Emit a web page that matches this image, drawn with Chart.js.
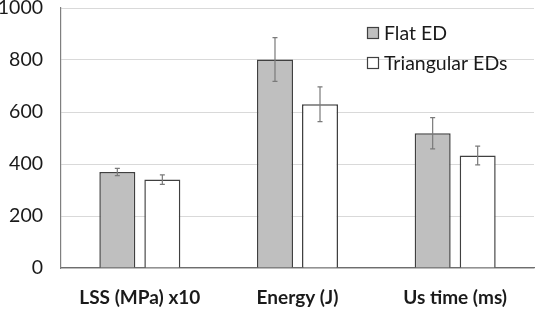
<!DOCTYPE html>
<html><head><meta charset="utf-8">
<script src="https://cdn.jsdelivr.net/npm/chart.js@4.4.1/dist/chart.umd.min.js"></script>
<style>html,body{margin:0;padding:0;background:#fff}#wrap{width:536px;height:309px}</style>
</head><body><div id="wrap"><canvas id="c" width="536" height="309"></canvas></div>
<script>
const categories = ["LSS (MPa) x10", "Energy (J)", "Us time (ms)"];
const seriesNames = ["Flat ED", "Triangular EDs"];
const flatValues = [369, 802, 518];
const flatErrors = [14, 84, 60];
const triValues = [340, 630, 433];
const triErrors = [18, 67, 36];
const yTicks = [0, 200, 400, 600, 800, 1000];

const FONT = "Lato, 'Liberation Sans', sans-serif";

const errorBars = {
  id: 'errorBars',
  afterDatasetsDraw(chart) {
    const ctx = chart.ctx, y = chart.scales.y;
    chart.data.datasets.forEach((ds, i) => {
      const meta = chart.getDatasetMeta(i);
      meta.data.forEach((bar, j) => {
        const v = ds.data[j], e = ds.errors[j];
        const yt = y.getPixelForValue(v + e), yb = y.getPixelForValue(v - e);
        ctx.save();
        ctx.strokeStyle = '#7a7a7a';
        ctx.lineWidth = 1.2;
        ctx.beginPath();
        ctx.moveTo(bar.x, yt); ctx.lineTo(bar.x, yb);
        ctx.moveTo(bar.x - 2.5, yt); ctx.lineTo(bar.x + 2.5, yt);
        ctx.moveTo(bar.x - 2.5, yb); ctx.lineTo(bar.x + 2.5, yb);
        ctx.stroke();
        ctx.restore();
      });
    });
  }
};

const innerLegend = {
  id: 'innerLegend',
  afterDraw(chart) {
    const ctx = chart.ctx;
    ctx.save();
    ctx.font = "19.5px " + FONT;
    ctx.textBaseline = 'middle';
    chart.data.datasets.forEach((ds, i) => {
      const cy = 33 + i * 30;
      ctx.fillStyle = ds.backgroundColor;
      ctx.fillRect(367.5, cy - 5.5, 11, 11);
      ctx.strokeStyle = '#404040';
      ctx.lineWidth = 1.2;
      ctx.strokeRect(367.5, cy - 5.5, 11, 11);
      ctx.fillStyle = '#1a1a1a';
      ctx.fillText(ds.label, 384, cy + 1);
    });
    ctx.restore();
  }
};

new Chart(document.getElementById('c'), {
  type: 'bar',
  data: {
    labels: categories,
    datasets: [
      { label: seriesNames[0], data: flatValues, errors: flatErrors, backgroundColor: '#bfbfbf', borderColor: '#404040', borderWidth: 1.5 },
      { label: seriesNames[1], data: triValues, errors: triErrors, backgroundColor: '#ffffff', borderColor: '#404040', borderWidth: 1.5 }
    ]
  },
  options: {
    responsive: false,
    animation: false,
    devicePixelRatio: 1,
    categoryPercentage: 0.571,
    barPercentage: 0.8,
    layout: { padding: { top: 8, right: 2, left: 0, bottom: 0 } },
    plugins: { legend: { display: false }, tooltip: { enabled: false } },
    scales: {
      x: {
        grid: { display: false, drawTicks: false },
        border: { display: true, color: '#6e6e6e', width: 1.2 },
        ticks: { padding: 18, color: '#1a1a1a', font: { family: FONT, size: 19, weight: 'bold' } },
        afterFit(s) { s.height = 41; s.paddingLeft = 0; s.paddingRight = 0; }
      },
      y: {
        min: 0, max: 1000,
        afterBuildTicks(s) { s.ticks = yTicks.map(v => ({ value: v })); },
        grid: { color: '#d9d9d9', lineWidth: 1, drawTicks: false },
        border: { display: true, color: '#7f7f7f', width: 1.2 },
        ticks: { padding: 18, color: '#1a1a1a', font: { family: FONT, size: 19.5 }, callback: v => String(v) },
        afterFit(s) { s.width = 61; s.paddingTop = 0; s.paddingBottom = 0; }
      }
    }
  },
  plugins: [errorBars, innerLegend]
});
</script>
</body></html>
